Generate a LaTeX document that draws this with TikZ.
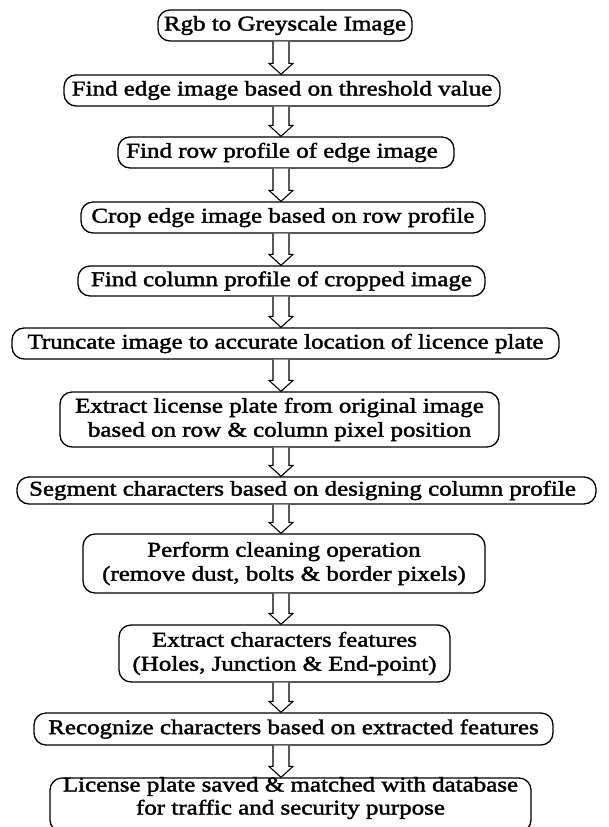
\documentclass[tikz,border=0pt]{standalone}
\usepackage{fontspec}
\setmainfont[FakeStretch=1.19,FakeBold=1.8]{Liberation Serif}
\usetikzlibrary{calc}
\tikzset{
  box/.style={draw=black, line width=1.3pt, rounded corners=12pt, fill=white,
    inner sep=0pt, align=center, font=\fontsize{21pt}{24pt}\selectfont},
  lbl/.style={inner sep=0pt, align=center, font=\fontsize{21pt}{23pt}\selectfont},
  hollow/.style={draw=black, line width=1.1pt, fill=white, line join=miter},
}
\newcommand{\harrow}[2]{%
  \draw[hollow] let \p1=(#1.south -| ax), \p2=(#2.north -| ax) in
    (\x1-8pt,\y1) -- (\x1-8pt,\y2+11pt) -- (\x1-12pt,\y2+11pt) -- (\x1,\y2)
    -- (\x1+12pt,\y2+11pt) -- (\x1+8pt,\y2+11pt) -- (\x1+8pt,\y1);}
\begin{document}
\begin{tikzpicture}[x=1pt,y=1pt]
\path[use as bounding box] (0,0) rectangle (608,-827);
\clip (0,0) rectangle (608,-827);
\coordinate (ax) at (281,0);
\node[box, minimum width=254, minimum height=31] (b1) at (285,-25.5) {Rgb to Greyscale Image};
\node[box, minimum width=436, minimum height=31] (b2) at (282,-90.5) {Find edge image based on threshold value};
\node[box, minimum width=336, minimum height=31] (b3) at (286,-152.5) {Find row profile of edge image\hspace{8pt}};
\node[box, minimum width=404, minimum height=31] (b4) at (283,-217.5) {Crop edge image based on row profile};
\node[box, minimum width=407, minimum height=30] (b5) at (281.5,-281) {Find column profile of cropped image};
\node[box, minimum width=547, minimum height=31] (b6) at (285.5,-343.5) {Truncate image to accurate location of licence plate};
\node[box, minimum width=439, minimum height=55] (b7) at (279.5,-419.5) {Extract license plate from original image\\based on row \& column pixel position};
\node[box, minimum width=579, minimum height=27] (b8) at (306.5,-490.5) {Segment characters based on designing column profile\hspace{8pt}};
\node[box, minimum width=402, minimum height=59] (b9) at (284,-563.5) {Perform cleaning operation\\(remove dust, bolts \& border pixels)};
\node[box, minimum width=331, minimum height=57] (b10) at (284.5,-653.5) {Extract characters features\\(Holes, Junction \& End-point)};
\node[box, minimum width=519, minimum height=32] (b11) at (293.5,-729) {Recognize characters based on extracted features};
\node[box, minimum width=481, minimum height=54] (b12) at (290.5,-805) {};
\node[lbl] (t12) at (290.5,-798) {License plate saved \& matched with database\\for traffic and security purpose};
\harrow{b1}{b2}
\harrow{b2}{b3}
\harrow{b3}{b4}
\harrow{b4}{b5}
\harrow{b5}{b6}
\harrow{b6}{b7}
\harrow{b7}{b8}
\harrow{b8}{b9}
\harrow{b9}{b10}
\harrow{b10}{b11}
\harrow{b11}{b12}
\end{tikzpicture}
\end{document}
